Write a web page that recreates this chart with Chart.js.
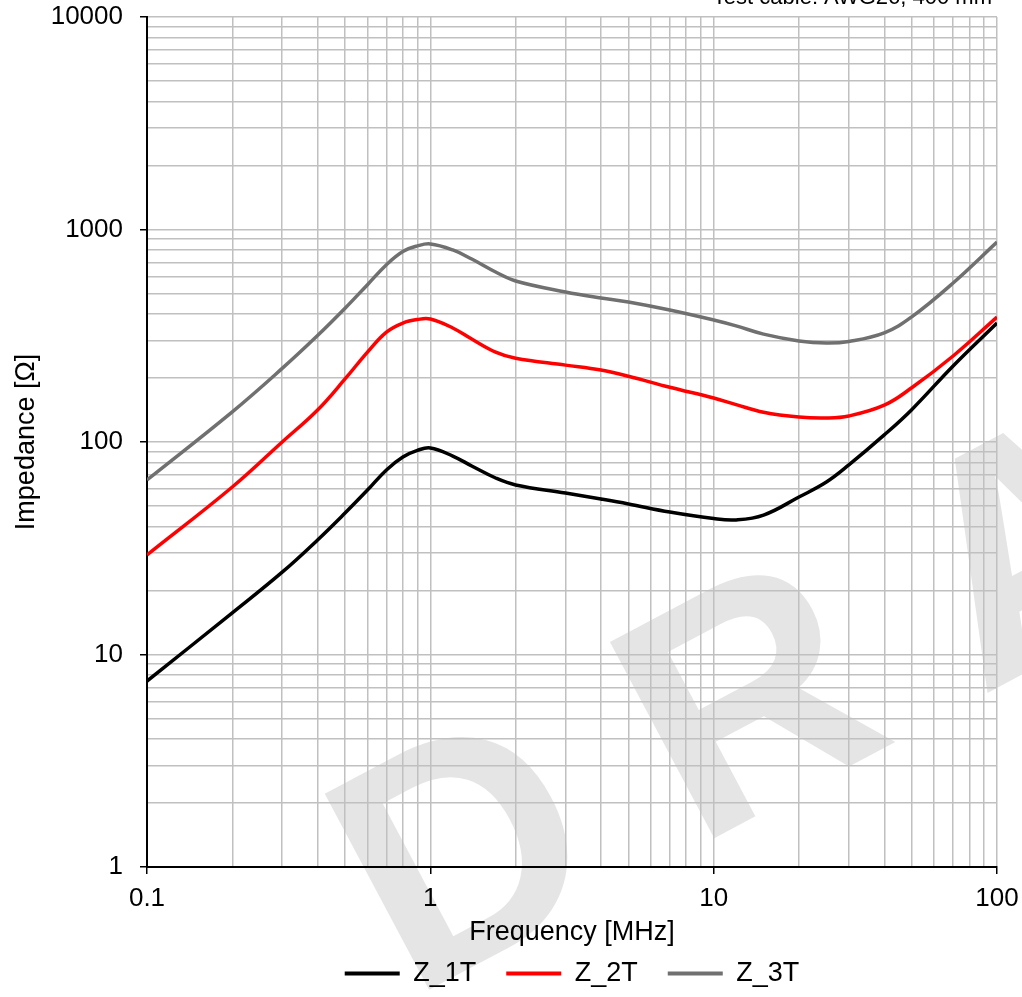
<!DOCTYPE html>
<html>
<head>
<meta charset="utf-8">
<script src="https://cdn.jsdelivr.net/npm/chart.js@4/dist/chart.umd.min.js"></script>
<style>
  html, body { margin: 0; padding: 0; background: #fff; }
  #wrap { width: 1022px; height: 997px; position: relative; }
</style>
</head>
<body>
<div id="wrap"><canvas id="myChart"></canvas></div>
<script>
'use strict';
// frequency points [MHz]
let freq = [0.1, 0.2, 0.3, 0.4, 0.5, 0.6, 0.7, 0.8, 0.9, 1, 1.2, 1.4, 1.7, 2, 3, 4, 5, 7, 10, 12, 15, 20, 25, 30, 40, 50, 70, 100];
// impedance [Ohm]
let z1T = [7.5, 15.7, 24.4, 34.6, 46.3, 59.4, 73.9, 85, 91.3, 93.8, 85.9, 77.1, 67.7, 62.8, 57.5, 53.9, 51.1, 46.8, 43.6, 43, 45.3, 55.1, 64.8, 78, 108, 142, 228, 363];
let z2T = [29.4, 61.4, 100, 141.5, 198, 265, 329, 363, 377, 379, 344, 305, 265, 248, 230, 218, 204, 181, 161, 150, 138, 131, 129.7, 132.6, 149, 180, 254, 387];
let z3T = [66.3, 138.7, 222, 317, 426, 550, 683, 788, 837, 855, 801, 726, 631, 572, 508, 476, 456, 418, 375, 352, 322, 299, 292, 297, 326, 388, 560, 873];

let seriesNames = ['Z_1T', 'Z_2T', 'Z_3T'];
let seriesColors = ['#000000', '#ff0000', '#707070'];

let xMajor = [0.1, 1, 10, 100];
let xTickLabels = ['0.1', '1', '10', '100'];
let yMajor = [1, 10, 100, 1000, 10000];
let yTickLabels = ['1', '10', '100', '1000', '10000'];
let minorSteps = [2, 3, 4, 5, 6, 7, 8, 9];

let gridColor = '#c0c0c0';
let fontFamily = "Arial, 'Liberation Sans', sans-serif";

function makeTicks(major) {
  let ticks = [];
  for (let i = 0; i < major.length; i++) {
    ticks.push({ value: major[i] });
    if (i < major.length - 1) {
      for (let j = 0; j < minorSteps.length; j++) {
        ticks.push({ value: +(major[i] * minorSteps[j]).toPrecision(6) });
      }
    }
  }
  return ticks;
}

function toPoints(ys) {
  let pts = [];
  for (let i = 0; i < freq.length; i++) {
    pts.push({ x: freq[i], y: ys[i] });
  }
  return pts;
}

let allSeries = [z1T, z2T, z3T];
let datasets = [];
for (let i = 0; i < allSeries.length; i++) {
  datasets.push({
    label: seriesNames[i],
    data: toPoints(allSeries[i]),
    borderColor: seriesColors[i],
    backgroundColor: seriesColors[i],
    borderWidth: 3.5,
    pointRadius: 0,
    tension: 0.4,
    fill: false
  });
}

// white background, DRAFT watermark behind the grid, cut-off note on top
let decorPlugin = {
  id: 'decor',
  beforeDraw(chart) {
    let ctx = chart.ctx;
    ctx.save();
    ctx.fillStyle = '#ffffff';
    ctx.fillRect(0, 0, chart.width, chart.height);
    ctx.translate(410, 1000);
    ctx.rotate(-28 * Math.PI / 180);
    ctx.font = 'bold 323px ' + fontFamily;
    ctx.fillStyle = '#e5e5e5';
    ctx.textBaseline = 'alphabetic';
    ctx.fillText('D R A F T', 0, 0);
    ctx.restore();
  },
  afterDraw(chart) {
    let ctx = chart.ctx;
    ctx.save();
    ctx.font = '22px ' + fontFamily;
    ctx.fillStyle = '#000';
    ctx.textAlign = 'right';
    ctx.textBaseline = 'alphabetic';
    ctx.fillText('Test cable: AWG26, 400 mm', 992, 4);
    ctx.restore();
  }
};

function tickMarkColor(major) {
  return function(c) {
    return (c.tick && major.indexOf(c.tick.value) >= 0) ? '#000000' : 'rgba(0,0,0,0)';
  };
}

function noScalePadding(scale) {
  scale.paddingTop = 0;
  scale.paddingBottom = 0;
  scale.paddingLeft = 0;
  scale.paddingRight = 0;
}

let ctx = document.getElementById('myChart').getContext('2d');
let myChart = new Chart(ctx, {
  type: 'line',
  data: { datasets: datasets },
  plugins: [decorPlugin],
  options: {
    responsive: true,
    maintainAspectRatio: false,
    animation: false,
    layout: { padding: { left: 0, right: 25, top: 17, bottom: 0 } },
    plugins: {
      tooltip: { enabled: false },
      legend: {
        position: 'bottom',
        fullSize: false,
        labels: {
          boxWidth: 55,
          boxHeight: 4,
          padding: 30,
          color: '#000',
          font: { family: fontFamily, size: 27 },
          generateLabels(chart) {
            let items = Chart.defaults.plugins.legend.labels.generateLabels(chart);
            items.forEach(function(it, i) {
              it.fillStyle = seriesColors[i];
              it.lineWidth = 0;
            });
            return items;
          }
        }
      }
    },
    scales: {
      x: {
        type: 'logarithmic',
        min: 0.1,
        max: 100,
        afterBuildTicks(scale) { scale.ticks = makeTicks(xMajor); },
        afterFit(scale) { scale.height = 63; noScalePadding(scale); },
        grid: {
          color: gridColor,
          lineWidth: 1.5,
          tickLength: 7,
          tickColor: tickMarkColor(xMajor),
          tickWidth: 1.5
        },
        border: { color: '#000', width: 2 },
        ticks: {
          autoSkip: false,
          maxRotation: 0,
          padding: 9,
          color: '#000',
          font: { family: fontFamily, size: 26 },
          callback(value) {
            let i = xMajor.indexOf(value);
            return i >= 0 ? xTickLabels[i] : '';
          }
        },
        title: {
          display: true,
          text: 'Frequency [MHz]',
          color: '#000',
          font: { family: fontFamily, size: 27 },
          padding: { top: 0, bottom: -19 }
        }
      },
      y: {
        type: 'logarithmic',
        min: 1,
        max: 10000,
        afterBuildTicks(scale) { scale.ticks = makeTicks(yMajor); },
        afterFit(scale) { scale.width = 147; noScalePadding(scale); },
        grid: {
          color: gridColor,
          lineWidth: 1.5,
          tickLength: 7,
          tickColor: tickMarkColor(yMajor),
          tickWidth: 1.5
        },
        border: { color: '#000', width: 2 },
        ticks: {
          autoSkip: false,
          padding: 17,
          color: '#000',
          font: { family: fontFamily, size: 26 },
          callback(value) {
            let i = yMajor.indexOf(value);
            return i >= 0 ? yTickLabels[i] : '';
          }
        },
        title: {
          display: true,
          text: 'Impedance [Ω]',
          color: '#000',
          font: { family: fontFamily, size: 27 },
          padding: { top: 10, bottom: 0 }
        }
      }
    }
  }
});
</script>
</body>
</html>
